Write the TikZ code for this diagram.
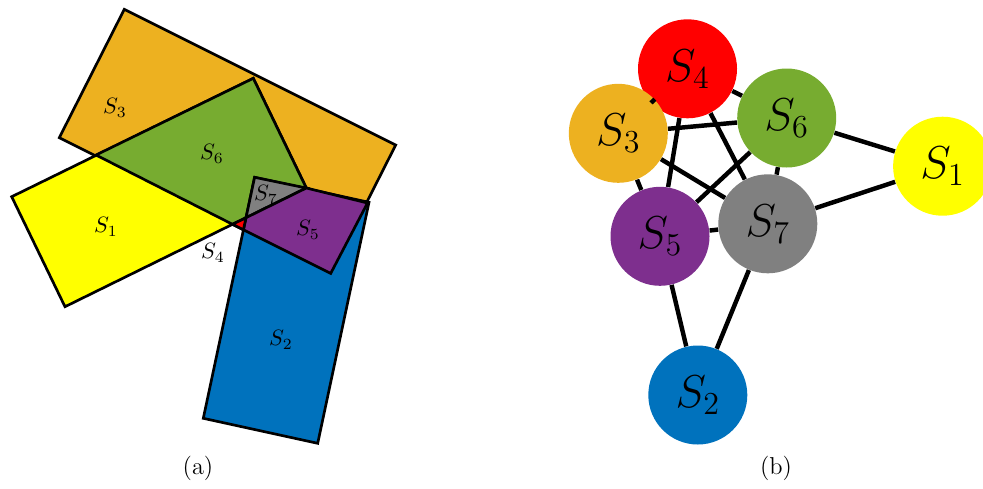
\documentclass[tikz,border=0pt]{standalone}
\definecolor{cOrange}{HTML}{EDB120}
\definecolor{cBlue}{HTML}{0072BD}
\definecolor{cPurple}{HTML}{7E2F8E}
\definecolor{cGreen}{HTML}{77AC30}
\definecolor{cGrey}{HTML}{808080}
\definecolor{cYellow}{HTML}{FFFF00}
\definecolor{cRed}{HTML}{FF0000}
\begin{document}
\begin{tikzpicture}[x=0.45pt,y=-0.45pt,
  region/.style={draw=black,line width=1.2pt},
  lbl/.style={inner sep=0pt},
  captext/.style={inner sep=0pt,font=\fontsize{11}{13}\selectfont},
  vset/.style={circle,minimum size=44.55pt,inner sep=0pt,font=\fontsize{20}{24}\selectfont},
  link/.style={line width=2pt}]
\useasboundingbox (0,0) rectangle (983,488);
% ---------- (a) regions ----------
\coordinate (O1) at (124.3,9.3);
\coordinate (O2) at (395.7,145);
\coordinate (O3) at (330.7,273.4);
\coordinate (O4) at (59.3,137.7);
\coordinate (Y1) at (11.7,196.7);
\coordinate (Y2) at (253.3,78.3);
\coordinate (Y3) at (306.3,188);
\coordinate (Y4) at (65,306.7);
\coordinate (G1) at (96,155);
\coordinate (G4) at (232.5,224.3);
\coordinate (B1) at (254.6,177.3);
\coordinate (B2) at (369,202.3);
\coordinate (B3) at (317.7,443.3);
\coordinate (B4) at (203.3,418.3);
\coordinate (P2) at (367.5,203);
\coordinate (P4) at (243.4,229.8);
\coordinate (P5) at (246,217.7);
\filldraw[region,fill=cOrange] (O1) -- (O2) -- (O3) -- (O4) -- cycle;
\filldraw[region,fill=cYellow] (Y1) -- (Y2) -- (Y3) -- (Y4) -- cycle;
\filldraw[region,fill=cGreen] (G1) -- (Y2) -- (Y3) -- (G4) -- cycle;
\filldraw[region,fill=cBlue] (B1) -- (B2) -- (B3) -- (B4) -- cycle;
\filldraw[region,fill=cGrey] (B1) -- (Y3) -- (P5) -- cycle;
\node[lbl] (l7) at (266,195) {$S_7$};
\filldraw[region,fill=cPurple] (Y3) -- (P2) -- (O3) -- (P4) -- (P5) -- cycle;
\filldraw[region,fill=cRed] (G4) -- (P5) -- (P4) -- cycle;
\node[lbl] (l3) at (115,108) {$S_3$};
\node[lbl] (l6) at (212,154) {$S_6$};
\node[lbl] (l1) at (106,227) {$S_1$};
\node[lbl] (l5) at (308,230) {$S_5$};
\node[lbl] (l4) at (213,253) {$S_4$};
\node[lbl] (l2) at (281,340) {$S_2$};
\node[captext] (capa) at (198,468) {(a)};
% ---------- (b) graph ----------
\node[vset,fill=cYellow] (S1) at (942.6,166.2) {$S_1$};
\node[vset,fill=cBlue] (S2) at (697.8,395) {$S_2$};
\node[vset,fill=cRed] (S4) at (687.5,68.8) {$S_4$};
\node[vset,fill=cOrange] (S3) at (618.3,133.3) {$S_3$};
\node[vset,fill=cPurple] (S5) at (660,236.3) {$S_5$};
\node[vset,fill=cGreen] (S6) at (786.7,118) {$S_6$};
\node[vset,fill=cGrey] (S7) at (767.8,223.8) {$S_7$};
\draw[link] (S3) -- (S4);
\draw[link] (S4) -- (S6);
\draw[link] (S3) -- (S6);
\draw[link] (S4) -- (S5);
\draw[link] (S4) -- (S7);
\draw[link] (S3) -- (S7);
\draw[link] (S3) -- (S5);
\draw[link] (S6) -- (S5);
\draw[link] (S6) -- (S7);
\draw[link] (S5) -- (S7);
\draw[link] (S6) -- (S1);
\draw[link] (S7) -- (S1);
\draw[link] (S5) -- (S2);
\draw[link] (S7) -- (S2);
\node[captext] (capb) at (776,468) {(b)};
\end{tikzpicture}
\end{document}
